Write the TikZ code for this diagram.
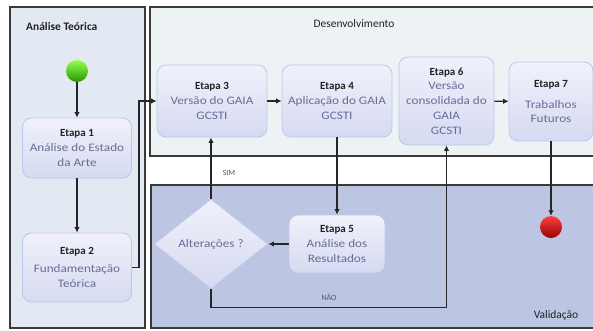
\documentclass[tikz,border=0pt]{standalone}
\usepackage{fontspec}
\setmainfont{Carlito}
\newfontfamily\widefont{Carlito}[FakeStretch=1.15]
\usetikzlibrary{shapes.geometric,arrows.meta,calc}
\definecolor{leftfill}{HTML}{E3E9F2}
\definecolor{topfill}{HTML}{EDF2F5}
\definecolor{botfill}{HTML}{BCC6E3}
\definecolor{panelline}{HTML}{3A3A3A}
\definecolor{boxline}{HTML}{BCC8EA}
\definecolor{boxtop}{HTML}{F0F1FB}
\definecolor{boxbot}{HTML}{D6DAF1}
\definecolor{bodytxt}{HTML}{676C98}
\definecolor{titletxt}{HTML}{222222}
\definecolor{linecol}{HTML}{262626}
\definecolor{lbltxt}{HTML}{555555}
\tikzset{
  panel/.style={draw=panelline, line width=1.4bp},
  stepbox/.style={rectangle, rounded corners=9bp, draw=boxline, line width=0.8bp,
    top color=boxtop, bottom color=boxbot, align=center, text=bodytxt,
    font=\widefont\fontsize{11.5}{15}\selectfont, inner sep=2bp},
  decision/.style={diamond, draw=boxline, line width=0.8bp, top color=boxtop, bottom color=boxbot,
    text=bodytxt, font=\widefont\fontsize{11.5}{13}\selectfont, inner sep=0pt},
  arr/.style={draw=linecol, line width=1.3bp, -{Latex[length=5.5bp,width=5.5bp]}},
  paneltitle/.style={text=titletxt, font=\fontsize{11.5}{13}\selectfont, inner sep=0pt},
  lbl/.style={text=lbltxt, font=\fontsize{8}{9}\selectfont, inner sep=0pt}
}
\newcommand{\etp}[1]{{\normalfont\fontsize{11}{15}\selectfont\bfseries\color{titletxt}#1}}
\begin{document}
\begin{tikzpicture}[x=1bp,y=-1bp]
\useasboundingbox (0,0) rectangle (593,330);
\fill[white] (0,0) rectangle (593,330);
% panels
\draw[panel, fill=leftfill] (10,7) rectangle (145,328);
\draw[panel, fill=topfill] (150,7) rectangle (596,156);
\draw[panel, fill=botfill] (151,185) rectangle (596,328);
\node[paneltitle, anchor=west, font=\fontsize{11.5}{13}\selectfont\bfseries] (tA) at (26,27) {Análise Teórica};
\node[paneltitle] (tD) at (354,24) {Desenvolvimento};
\node[paneltitle] (tV) at (556,315) {Validação};
% start / end
\node[circle, minimum size=22bp, inner sep=0pt, draw=none,
      top color=green!45!lime!70!white, bottom color=green!50!black!80!lime] (start) at (77,71) {};
\node[circle, minimum size=22bp, inner sep=0pt, draw=none, top color=red!75!white, bottom color=red!60!black] (stop) at (551,227) {};
% steps
\node[stepbox, minimum width=109bp, minimum height=60bp] (e1) at (77,148) {\etp{Etapa 1}\\Análise do Estado\\da Arte};
\node[stepbox, minimum width=109bp, minimum height=69bp] (e2) at (77,267.5) {\etp{Etapa 2}\\[3bp]Fundamentação\\Teórica};
\node[stepbox, minimum width=110bp, minimum height=72bp] (e3) at (212,101) {\etp{Etapa 3}\\Versão do GAIA\\GCSTI};
\node[stepbox, minimum width=110bp, minimum height=72bp] (e4) at (337,101) {\etp{Etapa 4}\\Aplicação do GAIA\\GCSTI};
\node[stepbox, minimum width=95bp, minimum height=88bp, font=\widefont\fontsize{11.5}{14.8}\selectfont] (e6) at (446.5,101) {\etp{Etapa 6}\\Versão\\consolidada do\\GAIA\\GCSTI};
\node[stepbox, minimum width=84bp, minimum height=79bp] (e7) at (551,101.5) {\etp{Etapa 7}\\[6bp]Trabalhos\\Futuros};
\node[stepbox, minimum width=96bp, minimum height=58bp] (e5) at (337,244) {\etp{Etapa 5}\\Análise dos\\Resultados};
\node[decision, minimum width=114bp, minimum height=90bp] (dia) at (211,244) {Alterações ?};
% connectors
\draw[arr] (start) -- (e1);
\draw[arr] (e1) -- (e2);
\draw[arr] (e2.east) -- ++(7,0) |- (e3.west);
\draw[arr] (e3) -- (e4);
\draw[arr] (e6) -- (e7);
\draw[arr] (e4.south) -- (e5.north);
\draw[arr] (e5) -- (dia);
\draw[arr] (dia.north) -- (dia.north |- e3.south);
\draw[arr] (dia.south) -- ++(0,18) -| (e6.south);
\draw[arr] (e7.south) -- (stop);
\node[lbl] (sim) at (229,173) {SIM};
\node[lbl] (nao) at (329,297) {NÃO};
\end{tikzpicture}
\end{document}
